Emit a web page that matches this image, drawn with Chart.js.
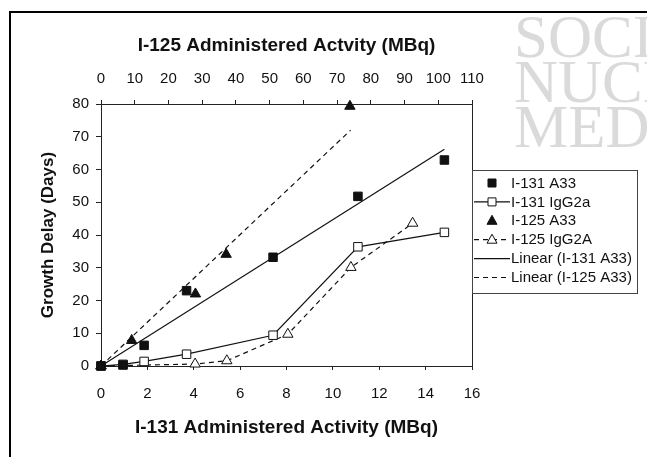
<!DOCTYPE html>
<html>
<head>
<meta charset="utf-8">
<script src="https://cdn.jsdelivr.net/npm/chart.js@4/dist/chart.umd.min.js"></script>
<style>
    html, body { margin: 0; padding: 0; background: #fff; }
    #wrap { width: 647px; height: 457px; }
</style>
</head>
<body>
<div id="wrap"><canvas id="growthChart" width="647" height="457"></canvas></div>
<script>
// I-131 (bottom axis, MBq)
const i131Activity = [0, 0.95, 1.86, 3.69, 7.42, 11.08, 14.81];
const i131A33Delay = [0, 0.3, 6.3, 23.0, 33.2, 51.8, 62.9];
const i131IgG2aDelay = [0, 0.5, 1.4, 3.6, 9.4, 36.4, 40.8];

// I-125 (top axis, MBq)
const i125A33Activity = [0, 9.1, 28.0, 37.1, 73.8];
const i125A33Delay = [0, 7.8, 22.0, 34.1, 79.3];
const i125IgG2AActivity = [0, 27.9, 37.3, 55.4, 74.1, 92.4];
const i125IgG2ADelay = [0, 0.6, 1.6, 9.7, 30.1, 43.6];

// trend lines (end points as drawn)
const trend131Activity = [0, 14.81];
const trend131Delay = [0, 66.2];
const trend125Activity = [0, 74.0];
const trend125Delay = [0, 72.0];

const bottomTicks = { min: 0, max: 16, step: 2 };
const topTicks = { min: 0, max: 110, step: 10 };
const delayTicks = { min: 0, max: 80, step: 10 };

const seriesLabels = ['I-131 A33', 'I-131 IgG2a', 'I-125 A33', 'I-125 IgG2A', 'Linear (I-131 A33)', 'Linear (I-125 A33)'];

const FONT = '"Liberation Sans", Arial, sans-serif';
const INK = '#111';

function toPoints(xs, ys) {
    return xs.map((x, i) => ({ x: x, y: ys[i] }));
}

// small marker drawer used by the legend
function drawMarker(ctx, style, filled, x, y) {
    ctx.save();
    ctx.lineWidth = 1;
    ctx.strokeStyle = INK;
    ctx.fillStyle = filled ? INK : '#fff';
    ctx.setLineDash([]);
    ctx.beginPath();
    if (style === 'rect') {
        ctx.rect(x - 4, y - 4, 8, 8);
    } else if (style === 'triangle') {
        ctx.moveTo(x, y - 5.5);
        ctx.lineTo(x + 5, y + 3.5);
        ctx.lineTo(x - 5, y + 3.5);
        ctx.closePath();
    }
    ctx.fill();
    ctx.stroke();
    ctx.restore();
}

const backdropPlugin = {
    id: 'backdrop',
    beforeDraw(chart) {
        const ctx = chart.ctx;
        ctx.save();
        ctx.fillStyle = '#fff';
        ctx.fillRect(0, 0, chart.width, chart.height);
        // faint journal watermark
        ctx.fillStyle = '#dadada';
        ctx.font = '61px "Liberation Serif", "Times New Roman", serif';
        ctx.textBaseline = 'alphabetic';
        ctx.fillText('SOCIETY', 514, 57);
        ctx.fillText('NUCLEAR', 514, 102);
        ctx.fillText('MEDICINE', 514, 147);
        // outer frame
        ctx.strokeStyle = '#000';
        ctx.lineWidth = 2;
        ctx.beginPath();
        ctx.moveTo(647, 12);
        ctx.lineTo(10, 12);
        ctx.lineTo(10, 457);
        ctx.stroke();
        ctx.restore();
    },
    afterDraw(chart) {
        const ctx = chart.ctx;
        const area = chart.chartArea;
        ctx.save();
        ctx.strokeStyle = '#222';
        ctx.lineWidth = 1;
        // right edge of plot area
        ctx.beginPath();
        ctx.moveTo(area.right + 0.5, area.top);
        ctx.lineTo(area.right + 0.5, area.bottom);
        ctx.stroke();

        // legend box
        const boxLeft = area.right + 0.5;
        const boxTop = 170.5;
        const boxRight = 637.5;
        const boxBottom = 293.5;
        ctx.strokeStyle = '#444';
        ctx.strokeRect(boxLeft, boxTop, boxRight - boxLeft, boxBottom - boxTop);

        const rowY = 183;
        const rowGap = 18.9;
        ctx.font = '15px ' + FONT;
        ctx.textBaseline = 'middle';
        ctx.fillStyle = INK;
        chart.data.datasets.forEach((ds, i) => {
            const y = rowY + i * rowGap;
            if (ds.showLine) {
                ctx.save();
                ctx.strokeStyle = INK;
                ctx.lineWidth = 1.2;
                ctx.setLineDash(ds.borderDash || []);
                ctx.beginPath();
                ctx.moveTo(474, y);
                ctx.lineTo(510, y);
                ctx.stroke();
                ctx.restore();
            }
            if (ds.pointRadius > 0) {
                drawMarker(ctx, ds.pointStyle, ds.pointBackgroundColor === INK, 492, y);
            }
            ctx.fillText(ds.label, 511, y + 0.5);
        });
        ctx.restore();
    }
};

function fixedSize(size, horizontal) {
    return function (scale) {
        if (horizontal) {
            scale.height = size;
        } else {
            scale.width = size;
        }
    };
}

const tickFont = { family: FONT, size: 15 };
const titleFont = { family: FONT, size: 19, weight: 'bold' };

new Chart(document.getElementById('growthChart').getContext('2d'), {
    type: 'scatter',
    data: {
        datasets: [
            {
                label: seriesLabels[0],
                data: toPoints(i131Activity, i131A33Delay),
                xAxisID: 'x',
                showLine: false,
                pointStyle: 'rect',
                pointRadius: 6,
                pointBackgroundColor: INK,
                pointBorderColor: INK,
                pointBorderWidth: 1,
                order: 1,
            },
            {
                label: seriesLabels[1],
                data: toPoints(i131Activity, i131IgG2aDelay),
                xAxisID: 'x',
                showLine: true,
                borderColor: INK,
                borderWidth: 1.2,
                pointStyle: 'rect',
                pointRadius: 6,
                pointBackgroundColor: '#fff',
                pointBorderColor: INK,
                pointBorderWidth: 1,
                order: 2,
            },
            {
                label: seriesLabels[2],
                data: toPoints(i125A33Activity, i125A33Delay),
                xAxisID: 'x2',
                showLine: false,
                pointStyle: 'triangle',
                pointRadius: 6,
                pointBackgroundColor: INK,
                pointBorderColor: INK,
                pointBorderWidth: 1,
                order: 1,
            },
            {
                label: seriesLabels[3],
                data: toPoints(i125IgG2AActivity, i125IgG2ADelay),
                xAxisID: 'x2',
                showLine: true,
                borderColor: INK,
                borderWidth: 1.2,
                borderDash: [5, 4],
                pointStyle: 'triangle',
                pointRadius: 6,
                pointBackgroundColor: '#fff',
                pointBorderColor: INK,
                pointBorderWidth: 1,
                order: 2,
            },
            {
                label: seriesLabels[4],
                data: toPoints(trend131Activity, trend131Delay),
                xAxisID: 'x',
                showLine: true,
                borderColor: INK,
                borderWidth: 1.2,
                pointRadius: 0,
                order: 3,
            },
            {
                label: seriesLabels[5],
                data: toPoints(trend125Activity, trend125Delay),
                xAxisID: 'x2',
                showLine: true,
                borderColor: INK,
                borderWidth: 1.2,
                borderDash: [5, 4],
                pointRadius: 0,
                order: 3,
            },
        ],
    },
    options: {
        responsive: false,
        animation: false,
        clip: false,
        layout: { padding: { left: 0, top: 0, right: 175, bottom: 0 } },
        plugins: {
            legend: { display: false },
            tooltip: { enabled: false },
        },
        scales: {
            x: {
                type: 'linear',
                position: 'bottom',
                min: bottomTicks.min,
                max: bottomTicks.max,
                afterFit: fixedSize(91, true),
                ticks: { stepSize: bottomTicks.step, autoSkip: false, maxRotation: 0, color: INK, font: tickFont, padding: 15 },
                grid: { drawOnChartArea: false, tickLength: 4, color: '#222' },
                border: { color: '#222' },
                title: { display: true, text: 'I-131 Administered Activity (MBq)', color: INK, font: titleFont, padding: { top: 0, bottom: 18 } },
            },
            x2: {
                type: 'linear',
                position: 'top',
                min: topTicks.min,
                max: topTicks.max,
                afterFit: fixedSize(104, true),
                ticks: { stepSize: topTicks.step, autoSkip: false, maxRotation: 0, color: INK, font: tickFont, padding: 12 },
                grid: { drawOnChartArea: false, tickLength: 4, color: '#222' },
                border: { color: '#222' },
                title: { display: true, text: 'I-125 Administered Actvity (MBq)', color: INK, font: titleFont, padding: { top: 34, bottom: 0 } },
            },
            y: {
                type: 'linear',
                position: 'left',
                min: delayTicks.min,
                max: delayTicks.max,
                afterFit: fixedSize(101, false),
                ticks: { stepSize: delayTicks.step, color: INK, font: tickFont, padding: 7 },
                grid: { drawOnChartArea: false, tickLength: 5, color: '#222' },
                border: { color: '#222' },
                title: { display: true, text: 'Growth Delay (Days)', color: INK, font: { family: FONT, size: 17, weight: 'bold' }, padding: { top: 38, bottom: 0 } },
            },
        },
    },
    plugins: [backdropPlugin],
});
</script>
</body>
</html>
